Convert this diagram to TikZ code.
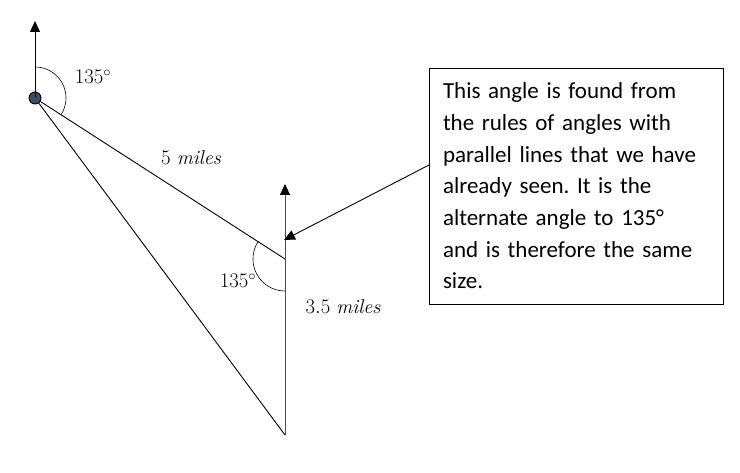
\documentclass[tikz,border=0pt]{standalone}
\usepackage{fontspec}
\newfontfamily\notefont{Carlito}
\usetikzlibrary{arrows.meta}
\definecolor{dotblue}{HTML}{3B4C63}
\frenchspacing
\begin{document}
\begin{tikzpicture}
  [x=1pt,y=1pt,line width=.9pt,
   north/.style={-{Triangle[length=11pt,width=10pt,color=black]}},
   marktext/.style={font=\fontsize{20}{24}\selectfont}]
  \useasboundingbox (0,0) rectangle (740,472);
  \node (dot)[circle,draw,fill=dotblue,minimum size=12pt,inner sep=0pt] at (35,374) {};
  \coordinate (dotN) at (35,451);
  \coordinate (turn) at (285,213);
  \coordinate (turnN) at (285,288);
  \coordinate (finish) at (285,37);
  \node (note)[draw,align=left,inner xsep=14pt,text width=266pt,minimum height=236pt,
    font=\notefont\fontsize{23}{31.7}\selectfont] at (576,286)
    {This angle is found from\\the rules of angles with\\parallel lines that we have\\already seen. It is the\\alternate angle to 135°\\and is therefore the same\\size.};
  \coordinate (noteend) at (429,307);
  \coordinate (tip) at (284,232);

  % bearings and legs
  \draw[north] (dot.center) -- (dotN);
  \draw[north,gray!60!black] (finish) -- (turnN);
  \foreach \to in {turn,finish}
    \draw (dot) -- (\to);
  \draw[north] (noteend) -- (tip);

  % angle marks
  \draw[line width=.6pt] ([shift={(90:31)}]dot.center) arc[start angle=90,end angle=-33,radius=31];
  \draw[line width=.6pt] ([shift={(147:32)}]turn) arc[start angle=147,end angle=270,radius=32];

  \node (a1)[marktext] at (93,395) {$135^\circ$};
  \node (d1)[marktext] at (191,314) {$5\ \mathit{miles}$};
  \node (a2)[marktext] at (238,191) {$135^\circ$};
  \node (d2)[marktext] at (343,165) {$3.5\ \mathit{miles}$};
\end{tikzpicture}
\end{document}
